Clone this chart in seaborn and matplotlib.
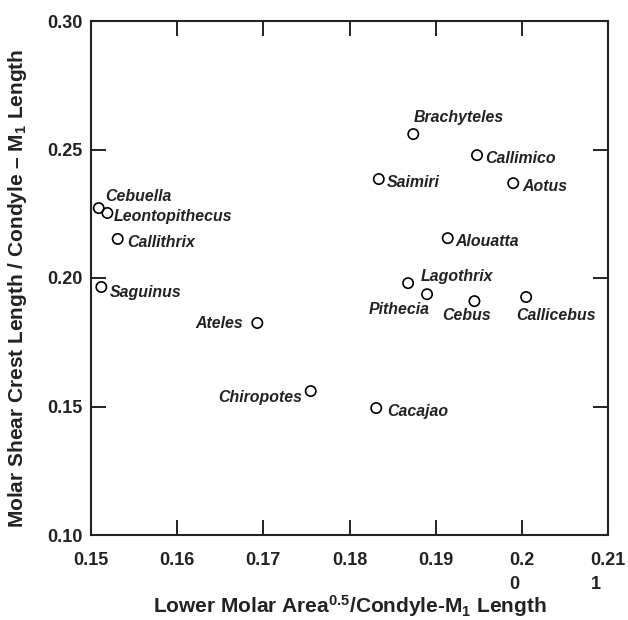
#!/usr/bin/env python3
"""Molar shear crest vs. lower molar area scatter (platyrrhine genera)
"""

import matplotlib
matplotlib.use('Agg')
import matplotlib.pyplot as plt
import seaborn as sns
import pandas as pd

genera = ['Cebuella', 'Leontopithecus', 'Callithrix', 'Saguinus', 'Ateles',
          'Chiropotes', 'Cacajao', 'Brachyteles', 'Callimico', 'Saimiri',
          'Aotus', 'Alouatta', 'Lagothrix', 'Pithecia', 'Cebus', 'Callicebus']
molar_area = [0.1509, 0.1519, 0.1531, 0.1512, 0.1693,
              0.1755, 0.1831, 0.1874, 0.1948, 0.1834,
              0.1990, 0.1914, 0.1868, 0.1890, 0.1945, 0.2005]
shear_crest = [0.2272, 0.2253, 0.2152, 0.1965, 0.1825,
               0.1560, 0.1494, 0.2560, 0.2478, 0.2385,
               0.2369, 0.2155, 0.1980, 0.1937, 0.1910, 0.1926]

x_ticks = [0.15, 0.16, 0.17, 0.18, 0.19, 0.20, 0.21]
x_tick_labels = ['0.15', '0.16', '0.17', '0.18', '0.19', '0.2\n0', '0.21\n1']
y_ticks = [0.10, 0.15, 0.20, 0.25, 0.30]
y_tick_labels = ['0.10', '0.15', '0.20', '0.25', '0.30']

# label placement: (dx, dy) in pixels from the point, horizontal alignment
label_pos = {
    'Cebuella': (6, 12, 'left'),
    'Leontopithecus': (6, -4, 'left'),
    'Callithrix': (10, -4, 'left'),
    'Saguinus': (8, -6, 'left'),
    'Ateles': (-14, -1, 'right'),
    'Chiropotes': (-9, -6, 'right'),
    'Cacajao': (11, -3, 'left'),
    'Brachyteles': (0, 17, 'left'),
    'Callimico': (8, -3, 'left'),
    'Saimiri': (8, -3, 'left'),
    'Aotus': (9, -3, 'left'),
    'Alouatta': (8, -3, 'left'),
    'Lagothrix': (13, 7, 'left'),
    'Pithecia': (3, -15, 'right'),
    'Cebus': (-32, -14, 'left'),
    'Callicebus': (-10, -18, 'left'),
}


def main():
    sns.set_style('ticks')
    plt.rcParams['font.family'] = ['Liberation Sans', 'DejaVu Sans']
    plt.rcParams['mathtext.fontset'] = 'custom'
    plt.rcParams['mathtext.rm'] = 'Liberation Sans:bold'
    plt.rcParams['mathtext.bf'] = 'Liberation Sans:bold'
    plt.rcParams['mathtext.it'] = 'Liberation Sans:bold:italic'

    df = pd.DataFrame({'genus': genera, 'area': molar_area, 'crest': shear_crest})

    fig = plt.figure(figsize=(6.28, 6.2), dpi=100)
    ax = fig.add_axes([91 / 628, 85 / 620, 517 / 628, 514 / 620])

    sns.scatterplot(data=df, x='area', y='crest', ax=ax, marker='o', s=55,
                    facecolor='none', edgecolor='black', linewidth=1.2, zorder=3)

    for _, row in df.iterrows():
        dx, dy, ha = label_pos[row['genus']]
        ax.annotate(row['genus'], xy=(row['area'], row['crest']),
                    xytext=(dx, dy), textcoords='offset pixels',
                    ha=ha, va='center', fontsize=11.4,
                    fontweight='bold', fontstyle='italic', color='#222222')

    ax.set_xlim(0.15, 0.21)
    ax.set_ylim(0.10, 0.30)
    ax.set_xticks(x_ticks)
    ax.set_xticklabels(x_tick_labels, fontsize=13, fontweight='bold',
                       linespacing=1.6, multialignment='left')
    ax.set_yticks(y_ticks)
    ax.set_yticklabels(y_tick_labels, fontsize=13, fontweight='bold')
    ax.tick_params(direction='in', length=11, width=1.4, color='#222222',
                   top=True, right=True, labelcolor='#222222')
    ax.tick_params(axis='x', pad=12)
    ax.tick_params(axis='y', pad=6)
    for sp in ax.spines.values():
        sp.set_linewidth(1.5)
        sp.set_color('#222222')

    ax.set_xlabel('Lower Molar Area$^{0.5}$/Condyle-M$_{1}$ Length',
                  fontsize=15, fontweight='bold', color='#222222')
    ax.set_ylabel('Molar Shear Crest Length / Condyle \u2013 M$_{1}$ Length',
                  fontsize=15, fontweight='bold', color='#222222')
    ax.xaxis.set_label_coords(0.5, -0.113)
    ax.yaxis.set_label_coords(-0.12, 0.48)

    plt.savefig('out.png', dpi=100)


if __name__ == '__main__':
    main()
